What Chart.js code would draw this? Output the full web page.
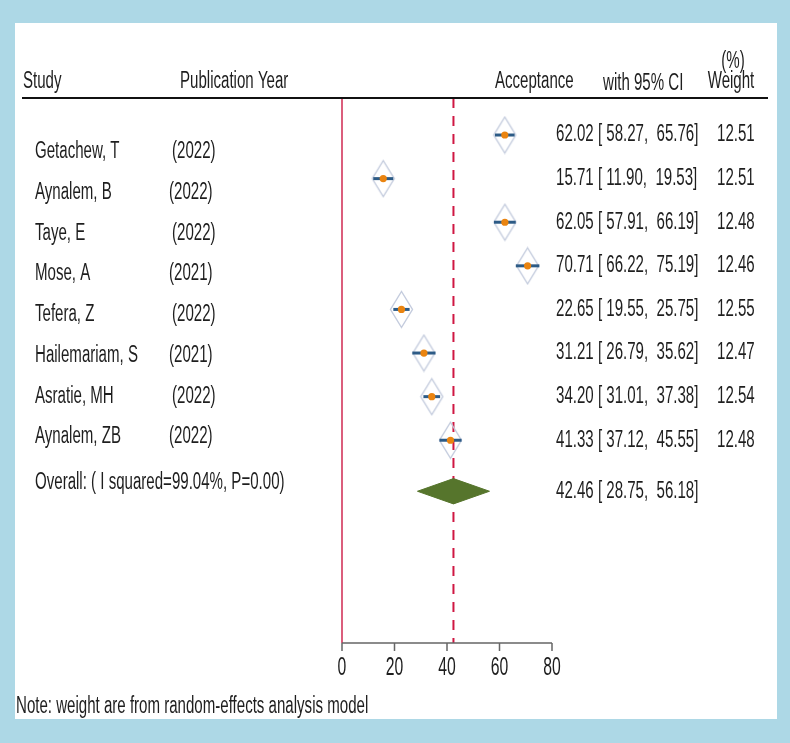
<!DOCTYPE html>
<html lang="en">
<head>
  <meta charset="UTF-8">
  <title>Forest plot - Acceptance</title>
  <script src="https://cdn.jsdelivr.net/npm/chart.js"></script>
  <style>
    * { box-sizing: border-box; margin: 0; padding: 0; }
    body { background: #add8e6; overflow: hidden; }
    canvas { display: block; }
  </style>
</head>
<body>
<canvas id="forest" width="790" height="743"></canvas>

<script>
  // study data
  const studies = ['Getachew, T', 'Aynalem, B', 'Taye, E', 'Mose, A', 'Tefera, Z',
                   'Hailemariam, S', 'Asratie, MH', 'Aynalem, ZB'];
  const years = ['(2022)', '(2022)', '(2022)', '(2021)', '(2022)', '(2021)', '(2022)', '(2022)'];
  const estimates = [62.02, 15.71, 62.05, 70.71, 22.65, 31.21, 34.20, 41.33];
  const lowerCI = [58.27, 11.90, 57.91, 66.22, 19.55, 26.79, 31.01, 37.12];
  const upperCI = [65.76, 19.53, 66.19, 75.19, 25.75, 35.62, 37.38, 45.55];
  const weights = ['12.51', '12.51', '12.48', '12.46', '12.55', '12.47', '12.54', '12.48'];
  const rows = [1, 2, 3, 4, 5, 6, 7, 8];

  const overallEst = 42.46;
  const overallLow = 28.75;
  const overallHigh = 56.18;
  const overallRow = 9.17;
  const overallLabel = 'Overall: ( I squared=99.04%, P=0.00)';

  const xTicks = [0, 20, 40, 60, 80];

  const FONT = '23px "Liberation Sans", Arial, sans-serif';
  const SQUEEZE = 0.655;
  const Y_MIN = 0.151, Y_MAX = 12.65;

  // grey diamond box used as the study marker
  function makeBox() {
    const c = document.createElement('canvas');
    c.width = 25; c.height = 39;
    const g = c.getContext('2d');
    g.strokeStyle = '#c3cbdd';
    g.lineWidth = 1.4;
    g.beginPath();
    g.moveTo(12.5, 1.5); g.lineTo(23.5, 19.5); g.lineTo(12.5, 37.5); g.lineTo(1.5, 19.5);
    g.closePath();
    g.stroke();
    return c;
  }
  const boxImg = makeBox();

  const datasets = [];

  // point estimates (orange dots)
  datasets.push({
    data: estimates.map((v, i) => ({ x: v, y: rows[i] })),
    pointStyle: 'circle', pointRadius: 3.6,
    backgroundColor: '#ea8410', borderColor: '#ea8410', borderWidth: 0,
    order: 0
  });

  // confidence interval lines
  estimates.forEach((v, i) => {
    datasets.push({
      data: [{ x: lowerCI[i], y: rows[i] }, { x: upperCI[i], y: rows[i] }],
      showLine: true, pointRadius: 0,
      borderColor: '#2d5b86', borderWidth: 3,
      order: 1
    });
  });

  // weight boxes
  datasets.push({
    data: estimates.map((v, i) => ({ x: v, y: rows[i] })),
    pointStyle: boxImg, pointRadius: 12,
    order: 2
  });

  // overall diamond
  datasets.push({
    data: [
      { x: overallLow, y: overallRow },
      { x: overallEst, y: overallRow - 0.29 },
      { x: overallHigh, y: overallRow },
      { x: overallEst, y: overallRow + 0.29 },
      { x: overallLow, y: overallRow }
    ],
    showLine: true, pointRadius: 0, tension: 0,
    borderColor: '#56752c', borderWidth: 1,
    backgroundColor: '#56752c', fill: 'shape',
    order: 3
  });

  // overall estimate (dashed) and null line
  datasets.push({
    data: [{ x: overallEst, y: Y_MIN }, { x: overallEst, y: Y_MAX }],
    showLine: true, pointRadius: 0,
    borderColor: '#cf1742', borderWidth: 2, borderDash: [10, 8],
    order: 4
  });
  datasets.push({
    data: [{ x: 0, y: Y_MIN }, { x: 0, y: Y_MAX }],
    showLine: true, pointRadius: 0,
    borderColor: '#cf2a52', borderWidth: 1.5,
    order: 4
  });

  function txt(ctx, s, x, y, align) {
    ctx.save();
    ctx.font = FONT;
    ctx.textBaseline = 'middle';
    ctx.textAlign = align || 'left';
    ctx.translate(x, y);
    ctx.scale(SQUEEZE, 1);
    ctx.fillText(s, 0, 0);
    ctx.restore();
  }

  const framePlugin = {
    id: 'frame',
    beforeDraw(chart) {
      const ctx = chart.ctx;
      ctx.save();
      ctx.fillStyle = '#add8e6';
      ctx.fillRect(0, 0, chart.width, chart.height);
      ctx.fillStyle = '#ffffff';
      ctx.fillRect(15, 23, 762, 696);
      ctx.restore();
    },
    afterDraw(chart) {
      const ctx = chart.ctx;
      const xs = chart.scales.x, ys = chart.scales.y;
      const area = chart.chartArea;
      ctx.save();
      ctx.fillStyle = '#1e1e1e';

      // header
      txt(ctx, 'Study', 23, 82);
      txt(ctx, 'Publication Year', 180, 82);
      txt(ctx, 'Acceptance', 495, 82);
      txt(ctx, 'with 95% CI', 603, 84);
      txt(ctx, '(%)', 733, 62, 'center');
      txt(ctx, 'Weight', 731, 82, 'center');
      ctx.strokeStyle = '#111';
      ctx.lineWidth = 2;
      ctx.beginPath();
      ctx.moveTo(22, area.top); ctx.lineTo(768, area.top);
      ctx.stroke();

      // study labels (slightly tighter spacing than the markers)
      studies.forEach((s, i) => {
        const y = 152 + i * 40.7;
        txt(ctx, s, 35, y);
        txt(ctx, years[i], i % 2 === 0 ? 172 : 169, y);
      });
      txt(ctx, overallLabel, 35, 483);

      // estimates and weights
      estimates.forEach((v, i) => {
        const y = ys.getPixelForValue(rows[i]);
        txt(ctx, v.toFixed(2) + ' [ ' + lowerCI[i].toFixed(2) + ',  ' + upperCI[i].toFixed(2) + ']', 556, y);
        txt(ctx, weights[i], 717, y);
      });
      txt(ctx, overallEst.toFixed(2) + ' [ ' + overallLow.toFixed(2) + ',  ' + overallHigh.toFixed(2) + ']',
          556, ys.getPixelForValue(overallRow));

      // x axis
      const y0 = area.bottom;
      ctx.strokeStyle = '#666';
      ctx.lineWidth = 1.5;
      ctx.beginPath();
      ctx.moveTo(xs.getPixelForValue(xTicks[0]), y0);
      ctx.lineTo(xs.getPixelForValue(xTicks[xTicks.length - 1]), y0);
      xTicks.forEach(t => {
        const px = xs.getPixelForValue(t);
        ctx.moveTo(px, y0); ctx.lineTo(px, y0 + 8);
      });
      ctx.stroke();
      xTicks.forEach(t => {
        ctx.save();
        ctx.font = '25px "Liberation Sans", Arial, sans-serif';
        ctx.textAlign = 'center';
        ctx.textBaseline = 'middle';
        ctx.translate(xs.getPixelForValue(t), 668);
        ctx.scale(0.63, 1);
        ctx.fillText(String(t), 0, 0);
        ctx.restore();
      });

      txt(ctx, 'Note: weight are from random-effects analysis model', 16, 707);
      ctx.restore();
    }
  };

  new Chart(document.getElementById('forest'), {
    type: 'scatter',
    data: { datasets: datasets },
    options: {
      responsive: false,
      animation: false,
      clip: false,
      layout: { padding: { left: 342, right: 238, top: 98, bottom: 100 } },
      plugins: { legend: { display: false }, tooltip: { enabled: false } },
      scales: {
        x: { type: 'linear', min: 0, max: 80, display: false },
        y: { type: 'linear', min: Y_MIN, max: Y_MAX, reverse: true, display: false }
      }
    },
    plugins: [framePlugin]
  });
</script>
</body>
</html>
